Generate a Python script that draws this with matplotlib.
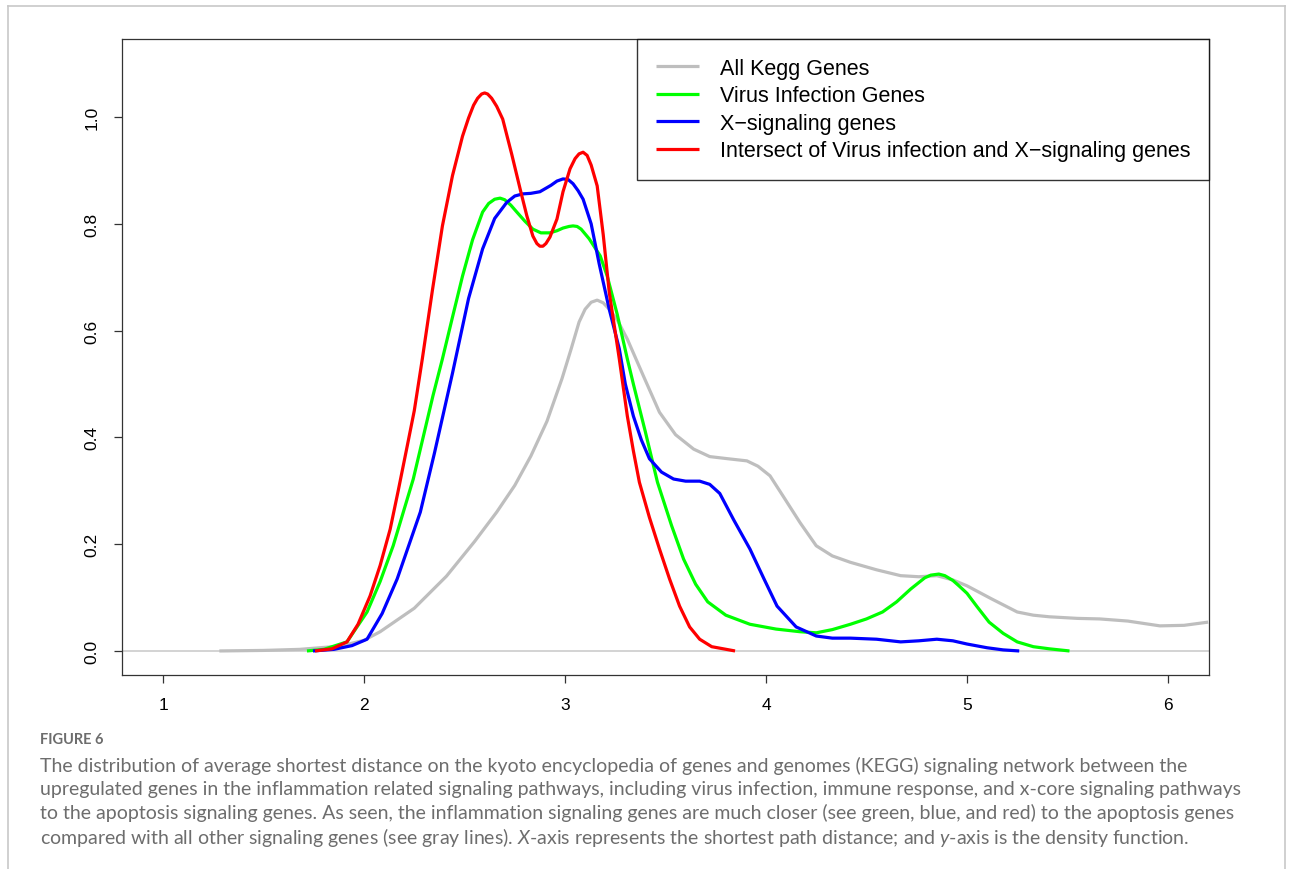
import matplotlib.pyplot as plt

plt.rcParams['font.family'] = ['Liberation Sans', 'DejaVu Sans']
plt.rcParams['mathtext.fontset'] = 'custom'
plt.rcParams['mathtext.rm'] = 'Lato'
plt.rcParams['mathtext.it'] = 'Lato:italic'

# density curves (x = shortest path distance, y = density)
kegg_x = [1.28, 1.50, 1.68, 1.88, 2.00, 2.08, 2.25, 2.41, 2.55, 2.66, 2.75, 2.83, 2.91, 2.985,
          3.03, 3.07, 3.10, 3.13, 3.16, 3.19, 3.22, 3.26, 3.31, 3.39, 3.47, 3.55, 3.64, 3.72,
          3.81, 3.905, 3.96, 4.02, 4.085, 4.17, 4.25, 4.33, 4.42, 4.55, 4.67, 4.76, 4.85, 4.93,
          5.0, 5.12, 5.25, 5.33, 5.41, 5.55, 5.66, 5.80, 5.96, 6.08, 6.20]
kegg_y = [0.0, 0.001, 0.003, 0.009, 0.02, 0.036, 0.08, 0.14, 0.205, 0.26, 0.31, 0.365, 0.43, 0.51,
          0.565, 0.616, 0.64, 0.653, 0.657, 0.652, 0.64, 0.62, 0.584, 0.515, 0.447, 0.405, 0.378, 0.364,
          0.36, 0.356, 0.346, 0.328, 0.29, 0.24, 0.197, 0.178, 0.166, 0.152, 0.141, 0.139, 0.141, 0.133,
          0.122, 0.098, 0.073, 0.067, 0.064, 0.061, 0.06, 0.056, 0.047, 0.048, 0.054]

virus_x = [1.716, 1.80, 1.915, 2.015, 2.08, 2.145, 2.245, 2.343, 2.39, 2.44, 2.49, 2.54, 2.59,
           2.62, 2.65, 2.677, 2.70, 2.73, 2.76, 2.80, 2.84, 2.88, 2.925, 2.96, 2.99, 3.02,
           3.04, 3.06, 3.08, 3.12, 3.175, 3.21, 3.26, 3.31, 3.34, 3.40, 3.46, 3.53, 3.59,
           3.65, 3.71, 3.80, 3.92, 4.05, 4.17, 4.25, 4.33, 4.42, 4.50, 4.58, 4.65, 4.72,
           4.76, 4.79, 4.82, 4.86, 4.89, 4.93, 4.96, 5.0, 5.05, 5.11, 5.18, 5.25, 5.33,
           5.41, 5.51]
virus_y = [0.0, 0.003, 0.017, 0.073, 0.13, 0.197, 0.322, 0.478, 0.547, 0.625, 0.702, 0.77, 0.822,
           0.838, 0.846, 0.848, 0.845, 0.835, 0.822, 0.805, 0.79, 0.783, 0.783, 0.787, 0.792, 0.795,
           0.796, 0.795, 0.79, 0.772, 0.74, 0.702, 0.63, 0.547, 0.5, 0.41, 0.316, 0.235, 0.172,
           0.125, 0.092, 0.067, 0.05, 0.041, 0.036, 0.034, 0.04, 0.05, 0.06, 0.073, 0.092, 0.116,
           0.128, 0.137, 0.142, 0.144, 0.141, 0.132, 0.122, 0.108, 0.083, 0.054, 0.033, 0.017, 0.008,
           0.004, 0.0]

xsig_x = [1.746, 1.85, 1.94, 2.015, 2.09, 2.165, 2.28, 2.35, 2.41, 2.44, 2.48, 2.52, 2.59, 2.65,
          2.71, 2.75, 2.79, 2.83, 2.875, 2.93, 2.96, 2.99, 3.015, 3.04, 3.065, 3.09, 3.13,
          3.17, 3.22, 3.27, 3.30, 3.34, 3.38, 3.42, 3.48, 3.54, 3.60, 3.67, 3.72, 3.77,
          3.84, 3.92, 3.99, 4.055, 4.15, 4.25, 4.33, 4.42, 4.55, 4.67, 4.76, 4.85, 4.93,
          5.0, 5.10, 5.18, 5.26]
xsig_y = [0.0, 0.003, 0.01, 0.022, 0.07, 0.135, 0.26, 0.37, 0.47, 0.52, 0.59, 0.66, 0.753, 0.81,
          0.84, 0.852, 0.856, 0.857, 0.86, 0.872, 0.88, 0.884, 0.883, 0.875, 0.862, 0.846, 0.80,
          0.725, 0.64, 0.566, 0.5, 0.44, 0.395, 0.36, 0.335, 0.322, 0.318, 0.318, 0.312, 0.295,
          0.245, 0.191, 0.135, 0.084, 0.045, 0.028, 0.024, 0.024, 0.022, 0.017, 0.019, 0.022, 0.019,
          0.013, 0.006, 0.002, 0.0]

inter_x = [1.756, 1.84, 1.915, 1.97, 2.03, 2.08, 2.13, 2.17, 2.215, 2.25, 2.29, 2.34, 2.39,
           2.44, 2.49, 2.52, 2.545, 2.565, 2.585, 2.60, 2.615, 2.635, 2.66, 2.69, 2.735, 2.78,
           2.81, 2.84, 2.86, 2.875, 2.89, 2.905, 2.925, 2.96, 2.99, 3.025, 3.05, 3.07, 3.09,
           3.11, 3.13, 3.16, 3.19, 3.22, 3.27, 3.31, 3.34, 3.37, 3.42, 3.47, 3.52, 3.57,
           3.62, 3.67, 3.73, 3.846]
inter_y = [0.0, 0.004, 0.017, 0.05, 0.103, 0.16, 0.228, 0.3, 0.384, 0.45, 0.547, 0.675, 0.796,
           0.89, 0.964, 0.998, 1.022, 1.035, 1.043, 1.045, 1.043, 1.035, 1.02, 0.996, 0.93, 0.86,
           0.815, 0.777, 0.763, 0.758, 0.758, 0.763, 0.775, 0.809, 0.86, 0.903, 0.922, 0.931, 0.934,
           0.928, 0.91, 0.871, 0.78, 0.672, 0.547, 0.44, 0.375, 0.316, 0.25, 0.191, 0.135, 0.084,
           0.045, 0.022, 0.008, 0.0]

series = [
    (kegg_x, kegg_y, '#bebebe', 'All Kegg Genes'),
    (virus_x, virus_y, '#00ff00', 'Virus Infection Genes'),
    (xsig_x, xsig_y, '#0000ff', 'X\u2212signaling genes'),
    (inter_x, inter_y, '#ff0000', 'Intersect of Virus infection and X\u2212signaling genes'),
]

fig = plt.figure(figsize=(12.93, 8.70), dpi=100)
ax = fig.add_axes([0.0944, 0.223, 0.8406, 0.731])

ax.axhline(0, color='#d3d3d3', lw=1.4, zorder=1)
for xs, ys, col, lab in series:
    ax.plot(xs, ys, color=col, lw=2.3, label=lab, zorder=2, solid_capstyle='butt',
            solid_joinstyle='round')

ax.set_xlim(0.796, 6.204)
ax.set_ylim(-0.045, 1.146)
ax.set_xticks([1, 2, 3, 4, 5, 6])
ax.set_yticks([0.0, 0.2, 0.4, 0.6, 0.8, 1.0])
ax.set_yticklabels(['0.0', '0.2', '0.4', '0.6', '0.8', '1.0'], rotation=90, va='center')
ax.tick_params(direction='out', length=6, width=0.9, labelsize=12.5, pad=10, color='#333333')
for s in ax.spines.values():
    s.set_color('#333333')
    s.set_linewidth(0.9)

leg = ax.legend(loc='upper right', borderaxespad=0, fontsize=15.5, frameon=True, fancybox=False,
                handlelength=2.0, handletextpad=0.95, labelspacing=0.3, borderpad=0.88)
leg.get_frame().set_edgecolor('black')
leg.get_frame().set_linewidth(1.0)
for h in leg.get_lines():
    h.set_linewidth(2.3)

# light border around the figure panel
fig.add_artist(plt.Line2D([8 / 1293, 8 / 1293], [0, 1 - 7 / 870], color='#c8c8c8', lw=1.2))
fig.add_artist(plt.Line2D([1285 / 1293, 1285 / 1293], [0, 1 - 7 / 870], color='#c8c8c8', lw=1.2))
fig.add_artist(plt.Line2D([8 / 1293, 1285 / 1293], [1 - 7 / 870, 1 - 7 / 870], color='#c8c8c8', lw=1.2))

cap_col = '#6d6d6d'
fig.text(40 / 1293, 1 - 740 / 870, 'FIGURE 6', fontsize=10.5, fontweight='bold', color=cap_col,
         family='Lato', va='center')
caption = [
    'The distribution of average shortest distance on the kyoto encyclopedia of genes and genomes (KEGG) signaling network between the',
    'upregulated genes in the inflammation related signaling pathways, including virus infection, immune response, and x-core signaling pathways',
    'to the apoptosis signaling genes. As seen, the inflammation signaling genes are much closer (see green, blue, and red) to the apoptosis genes',
    'compared with all other signaling genes (see gray lines). $\\mathit{X}$-axis represents the shortest path distance; and $\\mathit{y}$-axis is the density function.',
]
for i, line in enumerate(caption):
    fig.text(40 / 1293, 1 - (766 + i * 23.7) / 870, line, fontsize=14.05, color=cap_col,
             family='Lato', va='center')

fig.savefig('out.png', dpi=100)
